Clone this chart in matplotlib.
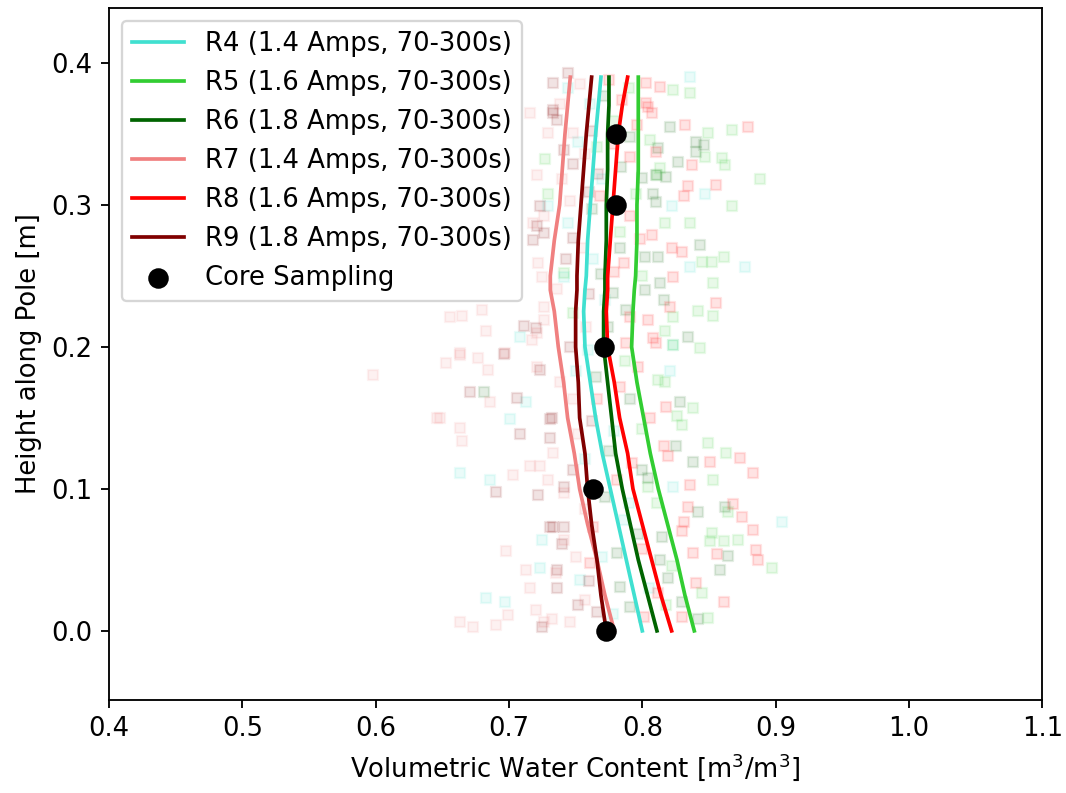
import matplotlib
matplotlib.use("Agg")
import matplotlib.pyplot as plt

plt.rcParams["font.size"] = 11.2

# ---- line data: height along pole vs. volumetric water content ----
heights = [0.0, 0.025, 0.05, 0.075, 0.1, 0.125, 0.15, 0.175, 0.2, 0.225, 0.24, 0.25, 0.275, 0.3, 0.325, 0.35, 0.37, 0.39]

r4 = [0.800, 0.794, 0.788, 0.782, 0.776, 0.770, 0.765, 0.761, 0.757, 0.756, 0.757, 0.758, 0.759, 0.761, 0.763, 0.765, 0.767, 0.769]
r5 = [0.839, 0.832, 0.826, 0.819, 0.812, 0.806, 0.801, 0.796, 0.792, 0.793, 0.794, 0.795, 0.796, 0.796, 0.797, 0.797, 0.797, 0.797]
r6 = [0.811, 0.804, 0.797, 0.791, 0.785, 0.780, 0.777, 0.774, 0.771, 0.771, 0.772, 0.772, 0.773, 0.773, 0.774, 0.774, 0.775, 0.775]
r7 = [0.779, 0.772, 0.766, 0.759, 0.753, 0.749, 0.744, 0.741, 0.737, 0.734, 0.731, 0.731, 0.734, 0.738, 0.740, 0.742, 0.744, 0.746]
r8 = [0.822, 0.814, 0.807, 0.800, 0.793, 0.789, 0.783, 0.779, 0.774, 0.773, 0.774, 0.774, 0.776, 0.778, 0.780, 0.782, 0.785, 0.789]
r9 = [0.773, 0.769, 0.766, 0.762, 0.759, 0.757, 0.753, 0.752, 0.750, 0.750, 0.751, 0.751, 0.752, 0.754, 0.756, 0.758, 0.760, 0.762]

labels = ["R4 (1.4 Amps, 70-300s)", "R5 (1.6 Amps, 70-300s)", "R6 (1.8 Amps, 70-300s)",
          "R7 (1.4 Amps, 70-300s)", "R8 (1.6 Amps, 70-300s)", "R9 (1.8 Amps, 70-300s)"]
colors = ["turquoise", "limegreen", "darkgreen", "lightcoral", "red", "maroon"]

# ---- core sampling ----
core_x = [0.773, 0.763, 0.771, 0.780, 0.780]
core_y = [0.0, 0.1, 0.2, 0.3, 0.35]

# ---- raw scatter measurements (x, y) per series ----
r4_pts = [(0.713,0.161),(0.701,0.149),(0.663,0.111),(0.686,0.106),(0.725,0.064),(0.723,0.044),
          (0.683,0.023),(0.697,0.020),(0.729,0.299),(0.741,0.249),(0.708,0.207),(0.836,0.390),
          (0.822,0.299),(0.847,0.308),(0.836,0.256),(0.877,0.256),(0.823,0.201),(0.821,0.183),
          (0.823,0.101),(0.905,0.077),(0.759,0.198),(0.786,0.078),(0.753,0.036),
          (0.744,0.382),(0.761,0.371),(0.752,0.344),(0.770,0.318),(0.744,0.287),(0.763,0.262),
          (0.772,0.233),(0.750,0.183),(0.779,0.141),(0.757,0.121),(0.790,0.090),(0.770,0.052),
          (0.805,0.030),(0.778,0.012)]
r5_pts = [(0.727,0.332),(0.823,0.381),(0.836,0.379),(0.849,0.351),(0.867,0.353),(0.806,0.346),
          (0.847,0.334),(0.860,0.333),(0.862,0.328),(0.813,0.326),(0.888,0.318),(0.867,0.299),
          (0.817,0.287),(0.836,0.287),(0.845,0.260),(0.852,0.260),(0.861,0.263),(0.853,0.245),
          (0.842,0.225),(0.853,0.222),(0.823,0.221),(0.817,0.211),(0.843,0.199),(0.823,0.201),
          (0.812,0.177),(0.817,0.175),(0.838,0.157),(0.826,0.151),(0.830,0.145),(0.849,0.132),
          (0.863,0.125),(0.853,0.106),(0.864,0.084),(0.852,0.069),(0.851,0.063),(0.861,0.063),
          (0.872,0.064),(0.897,0.044),(0.845,0.027),(0.849,0.009),(0.766,0.341),(0.811,0.321),
          (0.729,0.308),(0.741,0.252),(0.748,0.224),(0.804,0.101),
          (0.790,0.382),(0.779,0.359),(0.795,0.308),(0.783,0.281),(0.800,0.250),(0.787,0.190),
          (0.800,0.142),(0.811,0.090),(0.822,0.046),(0.818,0.018)]
r6_pts = [(0.681,0.168),(0.821,0.355),(0.812,0.340),(0.840,0.344),(0.846,0.342),(0.840,0.337),
          (0.827,0.330),(0.800,0.319),(0.810,0.321),(0.818,0.320),(0.808,0.308),(0.810,0.302),
          (0.843,0.272),(0.802,0.263),(0.812,0.263),(0.813,0.245),(0.802,0.240),(0.816,0.233),
          (0.834,0.207),(0.828,0.161),(0.825,0.130),(0.838,0.119),(0.800,0.113),(0.804,0.108),
          (0.842,0.084),(0.862,0.087),(0.815,0.066),(0.864,0.053),(0.858,0.043),(0.813,0.050),
          (0.819,0.037),(0.830,0.020),(0.842,0.008),(0.791,0.348),(0.783,0.270),(0.778,0.238),
          (0.774,0.214),(0.791,0.163),(0.781,0.055),(0.783,0.031),(0.791,0.017),
          (0.771,0.377),(0.784,0.327),(0.762,0.297),(0.769,0.251),(0.788,0.226),(0.765,0.179),
          (0.775,0.127),(0.797,0.068),(0.772,0.094)]
r7_pts = [(0.663,0.194),(0.677,0.192),(0.684,0.184),(0.653,0.189),(0.686,0.161),(0.648,0.150),
          (0.663,0.143),(0.703,0.110),(0.716,0.116),(0.729,0.106),(0.698,0.056),(0.713,0.043),
          (0.735,0.041),(0.716,0.030),(0.663,0.006),(0.673,0.003),(0.690,0.004),(0.699,0.011),
          (0.720,0.015),(0.732,0.008),(0.716,0.365),(0.729,0.351),(0.721,0.321),(0.718,0.287),
          (0.722,0.259),(0.725,0.249),(0.656,0.221),(0.665,0.222),(0.680,0.226),(0.683,0.211),
          (0.726,0.219),(0.663,0.196),(0.697,0.196),(0.717,0.205),(0.598,0.180),(0.646,0.150),
          (0.665,0.134),(0.753,0.385),(0.748,0.351),(0.746,0.303),(0.726,0.292),(0.726,0.228),
          (0.721,0.210),(0.721,0.186),(0.748,0.163),(0.723,0.116),(0.741,0.097),(0.741,0.064),
          (0.726,0.006),(0.746,0.006),
          (0.738,0.371),(0.757,0.336),(0.740,0.318),(0.755,0.270),(0.736,0.241),(0.758,0.214),
          (0.738,0.175),(0.752,0.139),(0.733,0.125),(0.757,0.086),(0.750,0.052),(0.757,0.022)]
r8_pts = [(0.803,0.386),(0.813,0.383),(0.803,0.372),(0.807,0.365),(0.832,0.356),(0.879,0.355),
          (0.810,0.337),(0.837,0.328),(0.834,0.313),(0.831,0.306),(0.855,0.314),(0.807,0.279),
          (0.822,0.270),(0.830,0.267),(0.823,0.249),(0.804,0.219),(0.821,0.228),(0.855,0.231),
          (0.808,0.206),(0.810,0.203),(0.818,0.158),(0.816,0.130),(0.819,0.123),(0.851,0.119),
          (0.873,0.122),(0.883,0.111),(0.836,0.103),(0.834,0.087),(0.868,0.089),(0.875,0.080),
          (0.831,0.077),(0.830,0.070),(0.883,0.071),(0.838,0.055),(0.856,0.054),(0.885,0.057),
          (0.887,0.050),(0.840,0.034),(0.861,0.020),(0.830,0.010),(0.785,0.374),(0.804,0.369),
          (0.791,0.334),(0.768,0.306),(0.791,0.292),(0.786,0.259),(0.791,0.221),(0.788,0.203),
          (0.766,0.163),(0.781,0.106),(0.763,0.073),(0.761,0.048),(0.801,0.010),
          (0.775,0.388),(0.796,0.356),(0.779,0.343),(0.798,0.276),(0.779,0.253),(0.797,0.186),
          (0.783,0.172),(0.806,0.150),(0.792,0.118),(0.800,0.058),(0.812,0.027)]
r9_pts = [(0.696,0.195),(0.671,0.168),(0.706,0.164),(0.708,0.139),(0.731,0.136),(0.732,0.150),
          (0.723,0.184),(0.690,0.098),(0.722,0.096),(0.741,0.101),(0.733,0.073),(0.741,0.073),
          (0.740,0.061),(0.736,0.030),(0.733,0.367),(0.736,0.360),(0.723,0.299),(0.718,0.275),
          (0.726,0.280),(0.711,0.215),(0.720,0.213),(0.733,0.386),(0.733,0.365),(0.748,0.329),
          (0.767,0.322),(0.721,0.285),(0.748,0.277),(0.731,0.149),(0.731,0.073),(0.736,0.043),
          (0.766,0.013),(0.725,0.003),
          (0.744,0.393),(0.762,0.352),(0.741,0.339),(0.760,0.309),(0.743,0.262),(0.760,0.237),
          (0.746,0.200),(0.762,0.148),(0.748,0.113),(0.760,0.035),(0.752,0.018)]

series = [r4, r5, r6, r7, r8, r9]
scatter_sets = [r4_pts, r5_pts, r6_pts, r7_pts, r8_pts, r9_pts]

fig = plt.figure(figsize=(6.4, 4.76), dpi=166.6)
ax = fig.add_axes([109/1066, 1 - 700/793, (1042 - 109)/1066, (700 - 8)/793])

for pts, c in zip(scatter_sets, colors):
    xs = [p[0] for p in pts]
    ys = [p[1] for p in pts]
    ax.scatter(xs, ys, marker="s", s=19, color=c, alpha=0.11, zorder=1)

for vals, lab, c in zip(series, labels, colors):
    ax.plot(vals, heights, color=c, lw=1.6, label=lab, zorder=3)

ax.scatter(core_x, core_y, color="black", s=62, label="Core Sampling", zorder=5)

ax.set_xlim(0.4, 1.1)
ax.set_ylim(-0.0487, 0.4387)
ax.set_xticks([0.4, 0.5, 0.6, 0.7, 0.8, 0.9, 1.0, 1.1])
ax.set_yticks([0.0, 0.1, 0.2, 0.3, 0.4])
ax.set_xlabel("Volumetric Water Content [m$^3$/m$^3$]")
ax.set_ylabel("Height along Pole [m]")
ax.legend(loc="upper left")

fig.savefig("out.png", dpi=166.6)
